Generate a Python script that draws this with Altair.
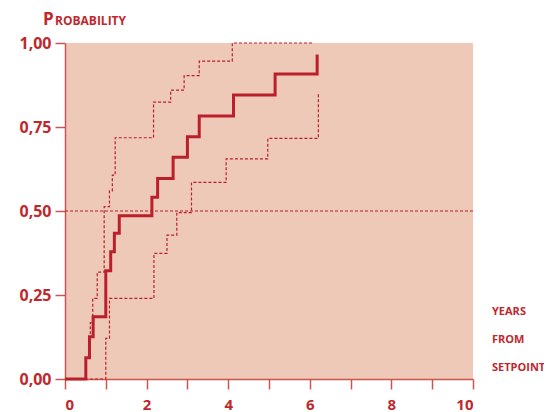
import altair as alt
import pandas as pd

# Kaplan-Meier estimate (step-after)
main_x = [0, 0.51, 0.60, 0.69, 1.00, 1.12, 1.21, 1.33, 2.13, 2.27, 2.65, 3.00, 3.29, 4.13, 5.15, 6.18]
main_y = [0, 0.063, 0.126, 0.185, 0.322, 0.379, 0.434, 0.486, 0.541, 0.597, 0.660, 0.721, 0.783, 0.845, 0.908, 0.966]

# Upper confidence band
upper_x = [0, 0.51, 0.60, 0.62, 0.68, 0.79, 0.96, 1.09, 1.16, 1.23, 2.17, 2.59, 2.92, 3.29, 4.10, 6.10]
upper_y = [0, 0.063, 0.126, 0.168, 0.240, 0.318, 0.513, 0.560, 0.607, 0.718, 0.824, 0.860, 0.903, 0.946, 1.0, 1.0]

# Lower confidence band
lower_x = [0, 1.00, 1.09, 2.18, 2.50, 2.74, 3.10, 3.95, 4.97, 6.21]
lower_y = [0, 0.121, 0.240, 0.374, 0.428, 0.495, 0.585, 0.655, 0.716, 0.852]

x_ticks = [0, 1, 2, 3, 4, 5, 6, 7, 8, 9, 10]
y_ticks = [0, 0.25, 0.5, 0.75, 1.0]
right_labels = ["YEARS", "FROM", "SETPOINT"]

RED = "#bb1f2b"
AXIS = "#cc5550"
TXT = "#c0282d"
BG = "#eec9b8"
FONT = "Open Sans"

main_df = pd.DataFrame({"x": main_x, "y": main_y})
upper_df = pd.DataFrame({"x": upper_x, "y": upper_y})
lower_df = pd.DataFrame({"x": lower_x, "y": lower_y})

xscale = alt.Scale(domain=[0, 10], nice=False, zero=False)
yscale = alt.Scale(domain=[0, 1], nice=False)

xaxis = alt.Axis(values=x_ticks, labelExpr="datum.value % 2 == 0 ? datum.label : ''",
                 title=None, grid=False, tickSize=10, labelPadding=8,
                 labelFont=FONT, labelFontWeight="bold", labelFontSize=15, labelColor=TXT,
                 domainColor=AXIS, tickColor=AXIS, domainWidth=1.5, tickWidth=1.5)
yaxis = alt.Axis(values=y_ticks, format=".2f", labelExpr="replace(datum.label, '.', ',')",
                 title=None, grid=False, tickSize=10, labelPadding=4,
                 labelFont=FONT, labelFontWeight="bold", labelFontSize=16, labelColor=TXT,
                 domainColor=AXIS, tickColor=AXIS, domainWidth=1.5, tickWidth=1.5)

base_main = alt.Chart(main_df).mark_line(interpolate="step-after", color=RED, strokeWidth=3).encode(
    x=alt.X("x:Q", scale=xscale, axis=xaxis),
    y=alt.Y("y:Q", scale=yscale, axis=yaxis),
)
up = alt.Chart(upper_df).mark_line(interpolate="step-after", color=RED, strokeWidth=1.2,
                                   strokeDash=[3, 2]).encode(x="x:Q", y="y:Q")
lo = alt.Chart(lower_df).mark_line(interpolate="step-after", color=RED, strokeWidth=1.2,
                                   strokeDash=[3, 2]).encode(x="x:Q", y="y:Q")
half = alt.Chart(pd.DataFrame({"y": [0.5]})).mark_rule(color=RED, strokeWidth=1,
                                                        strokeDash=[3, 2]).encode(y="y:Q")

title_p = alt.Chart(pd.DataFrame({"t": ["P"]})).mark_text(
    font=FONT, fontWeight="bold", fontSize=17, color=TXT, align="left", baseline="alphabetic"
).encode(x=alt.value(-22), y=alt.value(-18), text="t:N")
title_rest = alt.Chart(pd.DataFrame({"t": ["ROBABILITY"]})).mark_text(
    font=FONT, fontWeight="bold", fontSize=12, color=TXT, align="left", baseline="alphabetic"
).encode(x=alt.value(-10), y=alt.value(-18), text="t:N")

rl_df = pd.DataFrame({"t": right_labels, "py": [269, 297, 325]})
right = alt.Chart(rl_df).mark_text(
    font=FONT, fontWeight="bold", fontSize=11, color=TXT, align="left", baseline="middle"
).encode(x=alt.value(427), y=alt.Y("py:Q", scale=None), text="t:N")

chart = alt.layer(half, up, lo, base_main, title_p, title_rest, right).properties(
    width=408, height=336,
    autosize=alt.AutoSizeParams(type="none"),
    padding={"left": 57, "top": 35, "right": 71, "bottom": 33},
).configure_view(fill=BG, stroke=None)

chart.save("out.html", embed_options={"renderer": "svg", "actions": False})
